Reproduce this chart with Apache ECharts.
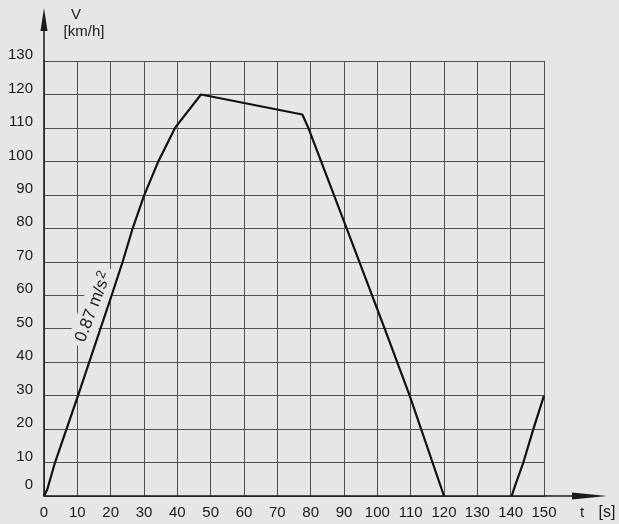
<!DOCTYPE html>
<html>
<head>
<meta charset="utf-8">
<script src="https://cdn.jsdelivr.net/npm/echarts@6/dist/echarts.min.js"></script>
<style>
html,body{margin:0;padding:0;background:#e6e6e6;}
#c{width:619px;height:524px;}
</style>
</head>
<body>
<div id="c"></div>
<script>
// Data (time in s, speed in km/h)
const timeA = [0, 1, 3.3, 10.2, 20.3, 23.6, 26.6, 30.1, 34.3, 39.3, 47.1, 77.5, 79.3, 90.8, 102.2, 109.7, 120];
const speedA = [0, 2, 10, 30, 60, 70, 80, 90, 100, 110, 120, 114, 110, 80, 50, 30, 0];
const timeB = [140.3, 141.3, 143.8, 146.8, 150];
const speedB = [0, 3, 10, 20, 30];
const xTickLabels = [0,10,20,30,40,50,60,70,80,90,100,110,120,130,140,150];
const yTickLabels = [0,10,20,30,40,50,60,70,80,90,100,110,120,130];
const slopeLabel = ['0.87 m/s', '2'];
const slopeLabelAt = [14.8, 56.5];
const yName = ['V', '[km/h]'];
const xName = ['t', '[s]'];

const chart = echarts.init(document.getElementById('c'), null, {renderer: 'canvas'});
const font = '"Liberation Sans", Arial, sans-serif';
const ink = '#1a1a1a';
const gridColor = '#505050';

function pairs(xs, ys){ return xs.map((x,i)=>[x, ys[i]]); }

chart.setOption({
  backgroundColor: '#e6e6e6',
  animation: false,
  grid: {left: 44, right: 75, top: 61, bottom: 28, containLabel: false},
  xAxis: {
    type: 'value', min: xTickLabels[0], max: xTickLabels[xTickLabels.length-1], interval: 10,
    axisLine: {show: true, lineStyle: {color: ink, width: 1.5}},
    axisTick: {show: false},
    splitLine: {show: true, lineStyle: {color: gridColor, width: 1}},
    axisLabel: {color: ink, fontSize: 15, fontFamily: font, margin: 9, showMaxLabel: true, showMinLabel: true}
  },
  yAxis: {
    type: 'value', min: yTickLabels[0], max: yTickLabels[yTickLabels.length-1], interval: 10,
    axisLine: {show: true, lineStyle: {color: ink, width: 1.5}},
    axisTick: {show: false},
    splitLine: {show: true, lineStyle: {color: gridColor, width: 1}},
    axisLabel: {
      color: ink, fontSize: 15, fontFamily: font, margin: 11,
      formatter: v => v === 0 ? '{z|0}' : '{a|' + v + '}',
      rich: {
        a: {fontSize: 15, fontFamily: font, color: ink, padding: [0,0,12,0]},
        z: {fontSize: 15, fontFamily: font, color: ink, padding: [0,0,22,0]}
      }
    }
  },
  series: [
    {type: 'line', data: pairs(timeA, speedA), symbol: 'none', lineStyle: {color: '#111', width: 2.2}, z: 5},
    {type: 'line', data: pairs(timeB, speedB), symbol: 'none', lineStyle: {color: '#111', width: 2.2}, z: 5}
  ]
});

// Axis extensions, arrows and names placed relative to the grid
const o = chart.convertToPixel({gridIndex: 0}, [0, 0]);
const xe = chart.convertToPixel({gridIndex: 0}, [150, 0]);
const ye = chart.convertToPixel({gridIndex: 0}, [0, 130]);
const lp = chart.convertToPixel({gridIndex: 0}, slopeLabelAt);
chart.setOption({
  graphic: [
    {type: 'line', shape: {x1: xe[0], y1: o[1], x2: xe[0] + 32, y2: o[1]}, style: {stroke: ink, lineWidth: 1.5}, z: 10},
    {type: 'polygon', shape: {points: [[xe[0]+28, o[1]-3.5], [xe[0]+63, o[1]], [xe[0]+28, o[1]+3.5]]}, style: {fill: ink}, z: 10},
    {type: 'line', shape: {x1: o[0], y1: ye[1], x2: o[0], y2: ye[1] - 32}, style: {stroke: ink, lineWidth: 1.5}, z: 10},
    {type: 'polygon', shape: {points: [[o[0]-3.5, ye[1]-30], [o[0], ye[1]-53], [o[0]+3.5, ye[1]-30]]}, style: {fill: ink}, z: 10},
    {type: 'text', x: o[0] + 32, y: ye[1] - 46, style: {text: yName[0], font: '15px ' + font, fill: ink, textAlign: 'center', textVerticalAlign: 'middle'}, z: 10},
    {type: 'text', x: o[0] + 40, y: ye[1] - 29, style: {text: yName[1], font: '15px ' + font, fill: ink, textAlign: 'center', textVerticalAlign: 'middle'}, z: 10},
    {type: 'text', x: xe[0] + 38, y: o[1] + 17, style: {text: xName[0], font: '15px ' + font, fill: ink, textAlign: 'center', textVerticalAlign: 'middle'}, z: 10},
    {type: 'text', x: xe[0] + 63, y: o[1] + 17, style: {text: xName[1], font: '16px ' + font, fill: ink, textAlign: 'center', textVerticalAlign: 'middle'}, z: 10},
    {type: 'text', x: lp[0], y: lp[1], rotation: 69 * Math.PI / 180, originX: 0, originY: 0,
     style: {
       text: '{m|' + slopeLabel[0] + '}{s|' + slopeLabel[1] + '}',
       rich: {
         m: {fontSize: 17, fontFamily: font, fill: ink, color: ink},
         s: {fontSize: 13, fontFamily: font, fill: ink, color: ink, padding: [0, 0, 8, 1]}
       },
       fill: ink, textAlign: 'center', textVerticalAlign: 'middle', backgroundColor: '#e6e6e6', padding: [2, 5]}, z: 4}
  ]
});
</script>
</body>
</html>
